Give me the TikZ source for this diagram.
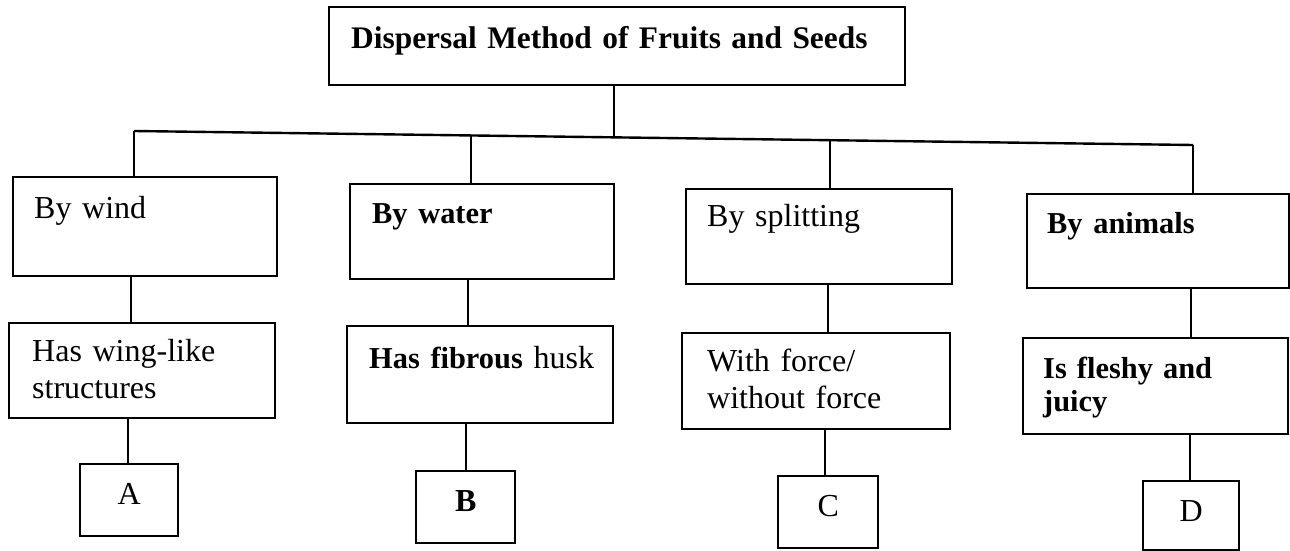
\documentclass[tikz,border=0pt]{standalone}
\usepackage{fontspec}
\setmainfont{Liberation Serif}
\newcommand\heavy{\fontsize{15.2}{16.5}\selectfont\bfseries}
\tikzset{
  box/.style={draw, line width=1.2pt, inner sep=0pt, anchor=north west, align=left,
    font=\fontsize{16}{18.5}\selectfont},
  letterbox/.style={box, align=center},
  link/.style={line width=1.2pt},
}
\begin{document}
\begin{tikzpicture}[x=0.5pt, y=-0.5pt]
\useasboundingbox (0,0) rectangle (1290,551);
% title
\node[box, minimum width=288pt, minimum height=39pt, text width=288pt, text height=20.5pt, text depth=18.5pt,
  font=\fontsize{15.7}{18}\selectfont\bfseries]
  (title) at (328,6) {\hspace*{11pt}Dispersal Method of Fruits and Seeds};
% first row
\node[box, minimum width=132pt, minimum height=49.5pt, text width=132pt, text height=20.5pt, text depth=29pt]
  (wind) at (12,176) {\hspace*{10.5pt}By wind};
\node[box, minimum width=132pt, minimum height=47.5pt, text width=132pt, text height=19.5pt, text depth=28pt]
  (water) at (349,183) {\hspace*{11pt}\heavy By water};
\node[box, minimum width=133pt, minimum height=47.5pt, text width=133pt, text height=18.5pt, text depth=29pt]
  (split) at (685,188) {\hspace*{10.5pt}By splitting};
\node[box, minimum width=131pt, minimum height=47pt, text width=131pt, text height=19.5pt, text depth=27.5pt]
  (animals) at (1026,193) {\hspace*{10pt}\heavy By animals};
% second row
\node[box, minimum width=133pt, minimum height=47.5pt, text width=133pt, text height=19pt, text depth=28.5pt]
  (wing) at (8,322) {\hspace*{11.5pt}Has wing-like\\\hspace*{11.5pt}structures};
\node[box, minimum width=133pt, minimum height=48.5pt, text width=133pt, text height=21pt, text depth=27.5pt]
  (fibrous) at (346,325) {\hspace*{11pt}{\heavy Has fibrous} husk};
\node[box, minimum width=134pt, minimum height=48pt, text width=134pt, text height=19pt, text depth=29pt]
  (force) at (681,332) {\hspace*{12.5pt}With force/\\\hspace*{12.5pt}without force};
\node[box, minimum width=132.5pt, minimum height=48pt, text width=132.5pt, text height=20pt, text depth=28pt,
  font=\heavy]
  (fleshy) at (1022,337) {\hspace*{10pt}Is fleshy and\\\hspace*{10pt}juicy};
% third row
\node[letterbox, minimum width=49pt, minimum height=36pt, text width=49pt, text height=20pt, text depth=16pt]
  (A) at (79,463) {A};
\node[letterbox, minimum width=49.5pt, minimum height=36pt, text width=49.5pt, text height=20pt, text depth=16pt]
  (B) at (415,470) {\bfseries B};
\node[letterbox, minimum width=50pt, minimum height=36pt, text width=50pt, text height=20pt, text depth=16pt]
  (C) at (777,475) {C};
\node[letterbox, minimum width=48pt, minimum height=34.5pt, text width=48pt, text height=20pt, text depth=14.5pt]
  (D) at (1142,480) {D};
% bus
\coordinate (b1) at (134,131);
\coordinate (b2) at (471,135.5);
\coordinate (bt) at (614,137.3);
\coordinate (b3) at (830,140.2);
\coordinate (b4) at (1193,145);
\draw[link] (bt |- title.south) -- (bt);
\draw[link] (b1) -- (b4);
\draw[link] (b1) -- (b1 |- wind.north);
\draw[link] (b2) -- (b2 |- water.north);
\draw[link] (b3) -- (b3 |- split.north);
\draw[link] (b4) -- (b4 |- animals.north);
% second level
\coordinate (c1) at (131,0);
\coordinate (c2) at (468,0);
\coordinate (c3) at (828,0);
\coordinate (c4) at (1191,0);
\draw[link] (c1 |- wind.south) -- (c1 |- wing.north);
\draw[link] (c2 |- water.south) -- (c2 |- fibrous.north);
\draw[link] (c3 |- split.south) -- (c3 |- force.north);
\draw[link] (c4 |- animals.south) -- (c4 |- fleshy.north);
% third level
\coordinate (d1) at (128,0);
\coordinate (d2) at (466,0);
\coordinate (d3) at (825,0);
\coordinate (d4) at (1190,0);
\draw[link] (d1 |- wing.south) -- (d1 |- A.north);
\draw[link] (d2 |- fibrous.south) -- (d2 |- B.north);
\draw[link] (d3 |- force.south) -- (d3 |- C.north);
\draw[link] (d4 |- fleshy.south) -- (d4 |- D.north);
\end{tikzpicture}
\end{document}
